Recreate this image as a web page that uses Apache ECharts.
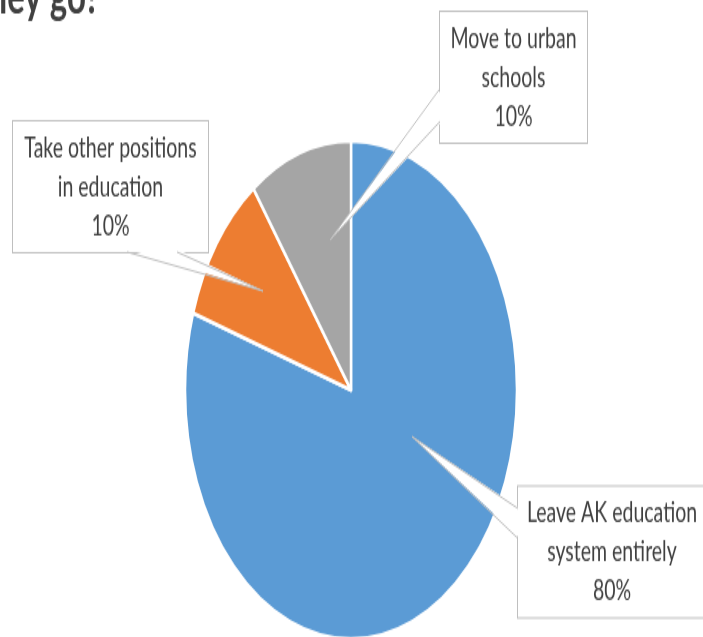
<!DOCTYPE html>
<html>
<head>
<meta charset="utf-8">
<script src="https://cdn.jsdelivr.net/npm/echarts@6/dist/echarts.min.js"></script>
<style>
  html, body { margin: 0; padding: 0; background: #fff; overflow: hidden; width: 703px; height: 637px; }
  /* the chart is drawn in a flat space and stretched 1.5x vertically */
  #chart { width: 703px; height: 425px; transform: scaleY(1.5); transform-origin: 0 0; }
</style>
</head>
<body>
<div id="chart"></div>
<script>
const categories = [
  'Leave AK education\nsystem entirely',
  'Take other positions\nin education',
  'Move to urban\nschools'
];
const shares = [80, 10, 10];
const sliceColors = ['#5B9BD5', '#ED7D31', '#A5A5A5'];
const titleText = 'they go?';

// Callout boxes (centre, width) and the pointer wedge for each slice,
// in the un-stretched drawing space.
const BOX_H = 87;
const callouts = [
  { cx: 612,   cy: 368,   w: 188, tip: [412, 291], side: 'left',   base: [339, 359] },
  { cx: 110.5, cy: 124.5, w: 195, tip: [263, 194], side: 'bottom', base: [127, 177] },
  { cx: 513.5, cy: 51.5,  w: 147, tip: [330, 160], side: 'left',   base: [59, 81] }
];

function wedgeElements(c) {
  let a, b, a2, b2;
  if (c.side === 'left') {
    const x = c.cx - c.w / 2;
    a = [x, c.base[0]]; b = [x, c.base[1]];
    a2 = [x + 2, c.base[0]]; b2 = [x + 2, c.base[1]];
  } else {
    const y = c.cy + BOX_H / 2;
    a = [c.base[0], y]; b = [c.base[1], y];
    a2 = [c.base[0], y - 2]; b2 = [c.base[1], y - 2];
  }
  return [
    { type: 'polygon', z: 20, shape: { points: [a2, c.tip, b2] },
      style: { fill: '#ffffff', stroke: null } },
    { type: 'polyline', z: 21, shape: { points: [a, c.tip, b] },
      style: { fill: null, stroke: '#bfbfbf', lineWidth: 1 } }
  ];
}

const chart = echarts.init(document.getElementById('chart'));

chart.setOption({
  animation: false,
  graphic: [
    { type: 'text', x: 100, y: 15, z: 30,
      style: { text: titleText, font: 'bold 33px Lato, "Open Sans", sans-serif',
               fill: '#404040', align: 'right', verticalAlign: 'bottom' } }
  ].concat(...callouts.map(wedgeElements)),
  series: [{
    type: 'pie',
    center: [351, 260],
    radius: 166,
    startAngle: 90,
    clockwise: true,
    avoidLabelOverlap: false,
    itemStyle: { borderColor: '#ffffff', borderWidth: 2.5 },
    label: {
      show: true,
      position: 'outside',
      color: '#404040',
      fontFamily: 'Lato, "Open Sans", sans-serif',
      fontSize: 19.5,
      lineHeight: 26,
      align: 'center',
      overflow: 'none',
      backgroundColor: '#ffffff',
      borderColor: '#bfbfbf',
      borderWidth: 1,
      padding: [6.5, 0, 2.5, 0],
      formatter: p => p.name + '\n' + Math.round(p.percent) + '%'
    },
    labelLine: { show: false },
    labelLayout: p => {
      const c = callouts[p.dataIndex];
      return { x: c.cx, y: c.cy, align: 'center', verticalAlign: 'middle', hideOverlap: false };
    },
    emphasis: { disabled: true },
    data: categories.map((name, i) => ({
      name: name,
      value: shares[i],
      itemStyle: { color: sliceColors[i] },
      label: { width: callouts[i].w }
    }))
  }]
});
</script>
</body>
</html>
